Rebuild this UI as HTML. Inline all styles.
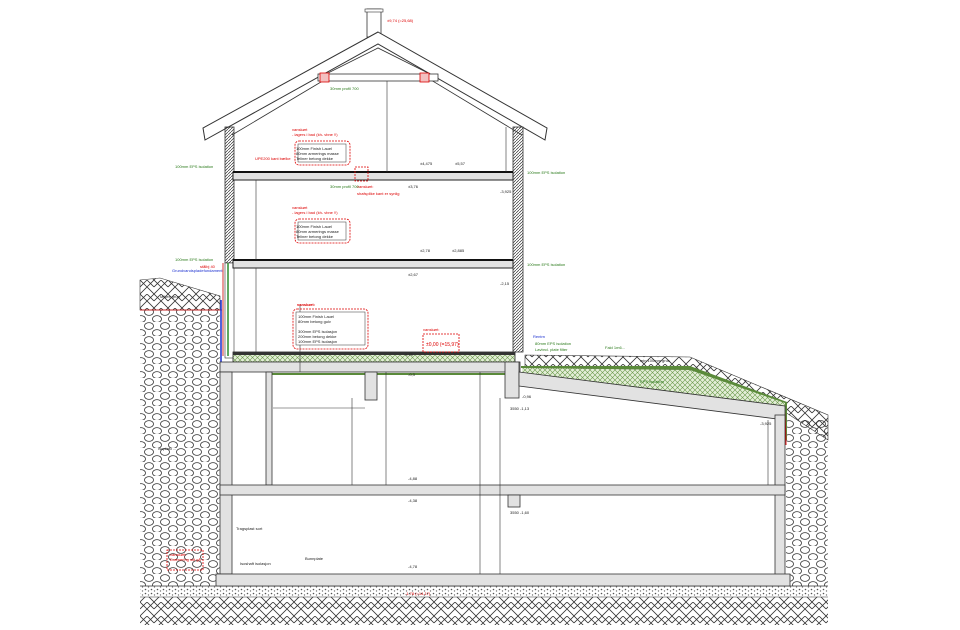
<!DOCTYPE html>
<html><head><meta charset="utf-8"><style>
html,body{margin:0;padding:0;background:#fff;}
svg{display:block;font-family:"Liberation Sans",sans-serif;}
</style></head><body>
<svg width="960" height="630" viewBox="0 0 960 630" xmlns="http://www.w3.org/2000/svg">
<defs>
<pattern id="herr" width="14" height="14" patternUnits="userSpaceOnUse">
<path d="M0 14 L7 7 L14 14 M0 7 L7 0 L14 7 M7 7 L14 0 M0 0 L7 7" stroke="#333" stroke-width="0.8" fill="none"/>
</pattern>
<pattern id="cob" width="16" height="14" patternUnits="userSpaceOnUse">
<ellipse cx="5" cy="4" rx="4.5" ry="3.4" fill="none" stroke="#333" stroke-width="0.8"/>
<ellipse cx="13" cy="11" rx="4.5" ry="3.4" fill="none" stroke="#333" stroke-width="0.8"/>
<ellipse cx="-3" cy="11" rx="4.5" ry="3.4" fill="none" stroke="#333" stroke-width="0.8"/>
</pattern>
<pattern id="hatch" width="3" height="3" patternUnits="userSpaceOnUse">
<path d="M0 3 L3 0" stroke="#333" stroke-width="0.7"/>
</pattern>
<pattern id="grav" width="6" height="4" patternUnits="userSpaceOnUse">
<circle cx="1.5" cy="1.5" r="0.8" fill="#555"/><circle cx="4.5" cy="3" r="0.7" fill="#777"/>
</pattern>
<pattern id="eps" width="5" height="5" patternUnits="userSpaceOnUse">
<rect width="5" height="5" fill="#e4eed8"/>
<path d="M0 0 L5 5 M5 0 L0 5" stroke="#6a9a4a" stroke-width="0.6"/>
</pattern>
</defs>

<!-- ground bottom -->
<rect x="140" y="586" width="688" height="11" fill="url(#grav)"/>
<rect x="140" y="597" width="688" height="28" fill="url(#herr)"/>
<line x1="140" y1="586" x2="828" y2="586" stroke="#333" stroke-width="0.8"/>
<line x1="140" y1="597" x2="828" y2="597" stroke="#333" stroke-width="0.6"/>

<!-- left earth -->
<polygon points="140,280 160,278 220,296 220,310 140,310" fill="url(#herr)" stroke="#333" stroke-width="0.6"/>
<rect x="140" y="310" width="80" height="276" fill="url(#cob)"/>
<line x1="140" y1="310" x2="222" y2="310" stroke="#c00" stroke-width="0.8"/>
<line x1="221" y1="300" x2="221" y2="575" stroke="#1a2fd0" stroke-width="1.5"/>

<!-- right earth -->
<polygon points="525,355 690,357 828,415 828,440 785,412 690,370 525,368" fill="url(#herr)" stroke="#333" stroke-width="0.6"/>
<rect x="786" y="420" width="42" height="166" fill="url(#cob)"/>
<polygon points="521,368 690,370 785,405 785,440 787,440 787,402 690,366 521,366" fill="#5a8a3a"/>
<polygon points="522,368 690,370 785,403 785,414 522,378" fill="url(#eps)"/>
<polyline points="520,378 785,413 786,445" fill="none" stroke="#d00" stroke-width="1"/>

<!-- chimney -->
<rect x="367" y="9" width="14" height="28" fill="#fff" stroke="#333" stroke-width="0.8"/>
<rect x="365" y="9" width="18" height="3" fill="#fff" stroke="#333" stroke-width="0.6"/>

<!-- roof -->
<polygon points="378,32 547,128 545,140 378,44 205,140 203,128" fill="#fff" stroke="#333" stroke-width="1"/>
<polyline points="232,135 378,48 522,135" fill="none" stroke="#333" stroke-width="0.8"/>
<polygon points="378,48 318,78 438,78" fill="#fff" stroke="#333" stroke-width="0.8"/>
<rect x="318" y="74" width="120" height="7" fill="#fff" stroke="#333" stroke-width="0.8"/>
<rect x="320" y="73" width="9" height="9" fill="#f3c0c0" stroke="#d00" stroke-width="0.8"/>
<rect x="420" y="73" width="9" height="9" fill="#f3c0c0" stroke="#d00" stroke-width="0.8"/>

<!-- walls upper -->
<rect x="225" y="127" width="9" height="136" fill="url(#hatch)" stroke="#333" stroke-width="0.8"/>
<rect x="513" y="127" width="10" height="225" fill="url(#hatch)" stroke="#333" stroke-width="0.8"/>
<rect x="225" y="263" width="9" height="95" fill="#fff" stroke="#333" stroke-width="0.6"/>
<line x1="228" y1="263" x2="228" y2="356" stroke="#2a8a2a" stroke-width="1.5"/>
<line x1="223" y1="263" x2="223" y2="356" stroke="#c00" stroke-width="0.8"/>

<!-- floor slabs -->
<rect x="233" y="172" width="280" height="8" fill="#e2e2e2" stroke="#222" stroke-width="1"/>
<line x1="233" y1="172" x2="513" y2="172" stroke="#111" stroke-width="2"/>
<rect x="233" y="260" width="280" height="8" fill="#e2e2e2" stroke="#222" stroke-width="1"/>
<line x1="233" y1="260" x2="513" y2="260" stroke="#111" stroke-width="2"/>
<rect x="233" y="352" width="282" height="10" fill="url(#eps)" stroke="#222" stroke-width="0.8"/>
<rect x="233" y="352" width="282" height="3" fill="#333"/>
<rect x="220" y="362" width="300" height="10" fill="#e2e2e2" stroke="#333" stroke-width="0.8"/>
<line x1="272" y1="374" x2="513" y2="374" stroke="#5a8a3a" stroke-width="2"/>

<!-- basement -->
<rect x="220" y="372" width="12" height="202" fill="#e2e2e2" stroke="#333" stroke-width="0.8"/>
<rect x="266" y="372" width="6" height="113" fill="#e2e2e2" stroke="#333" stroke-width="0.8"/>
<rect x="365" y="372" width="12" height="28" fill="#e2e2e2" stroke="#333" stroke-width="0.8"/>
<rect x="505" y="362" width="14" height="36" fill="#e2e2e2" stroke="#333" stroke-width="0.8"/>
<polygon points="519,372 785,406 785,420 519,386" fill="#e2e2e2" stroke="#333" stroke-width="0.8"/>
<rect x="775" y="415" width="10" height="160" fill="#e2e2e2" stroke="#333" stroke-width="0.8"/>
<rect x="220" y="485" width="565" height="10" fill="#e2e2e2" stroke="#333" stroke-width="0.8"/>
<rect x="508" y="495" width="12" height="12" fill="#e2e2e2" stroke="#333" stroke-width="0.8"/>
<rect x="216" y="574" width="574" height="12" fill="#e2e2e2" stroke="#333" stroke-width="0.8"/>

<!-- dimension lines -->
<g stroke="#333" stroke-width="0.6">
<line x1="387" y1="81" x2="387" y2="172"/>
<line x1="256" y1="180" x2="256" y2="260"/>
<line x1="506" y1="127" x2="506" y2="172"/>
<line x1="256" y1="268" x2="256" y2="352"/>
<line x1="273" y1="408" x2="365" y2="408"/>
<line x1="352" y1="398" x2="352" y2="485"/>
<line x1="386" y1="372" x2="386" y2="485"/>
<line x1="480" y1="372" x2="480" y2="574"/>
<line x1="500" y1="398" x2="500" y2="574"/>
<line x1="768" y1="420" x2="768" y2="485"/>
<line x1="300" y1="305" x2="300" y2="372"/>
</g>

<!-- red annotation boxes -->
<g fill="none" stroke="#d00" stroke-width="0.8" stroke-dasharray="2,1">
<rect x="295" y="141" width="55" height="24" rx="4"/>
<rect x="295" y="219" width="55" height="24" rx="4"/>
<rect x="293" y="309" width="75" height="40" rx="4"/>
<rect x="423" y="334" width="36" height="18"/>
<rect x="355" y="167" width="13" height="14"/>
<rect x="167" y="550" width="36" height="20"/>
</g>
<g fill="#fff" stroke="#333" stroke-width="0.5">
<rect x="298" y="144" width="48" height="18"/>
<rect x="298" y="222" width="48" height="18"/>
<rect x="296" y="312" width="69" height="33"/>
</g>

<!-- labels -->
<g font-size="4" fill="#d00">
<text x="292" y="131">vanskørt</text>
<text x="292" y="136">- lagers i bad (kh- vbne !!)</text>
<text x="292" y="209">vanskørt</text>
<text x="292" y="214">- lagers i bad (kh- vbne !!)</text>
<text x="297" y="306" font-weight="bold">vanskørt:</text>
<text x="423" y="331">vanskørt:</text>
<text x="426" y="346" font-size="5">±0,00 (=15,97)</text>
<text x="357" y="188">vanskørt:</text>
<text x="357" y="195">shafsplike kant er synlig</text>
<text x="387" y="22">±9,74 (=25,68)</text>
<text x="255" y="160">UPE200 kant bælke</text>
<text x="200" y="268">stålbj 40</text>
<text x="170" y="556">vanskørt:</text>
<text x="170" y="561">Drænering sid gå</text>
<text x="405" y="595">-1,78 (=14,17)</text>
</g>
<g font-size="4" fill="#2a7a1a">
<text x="175" y="168">100mm EPS isolation</text>
<text x="175" y="261">100mm EPS isolation</text>
<text x="527" y="174">100mm EPS isolation</text>
<text x="527" y="266">100mm EPS isolation</text>
<text x="330" y="90">30mm profil 700</text>
<text x="330" y="188">30mm profil 700</text>
<text x="535" y="345">80mm EPS isolation</text>
<text x="535" y="351">Lavbrcl. plate filter</text>
<text x="605" y="349">Fald 1m6...</text>
<text x="640" y="383">EPS isolation</text>
</g>
<g font-size="4" fill="#1a2fd0">
<text x="172" y="272">Grundvandspladefundament</text>
<text x="533" y="338">Rentrn</text>
</g>
<g font-size="4" fill="#222">
<text x="296" y="150">100mm Finish Lauel</text>
<text x="296" y="155">80mm armerings masse</text>
<text x="296" y="160">Teliner betong dekke</text>
<text x="296" y="228">100mm Finish Lauel</text>
<text x="296" y="233">80mm armerings masse</text>
<text x="296" y="238">Teliner betong dekke</text>
<text x="298" y="318">100mm Finish Lauel</text>
<text x="298" y="323">80mm betong gulv</text>
<text x="298" y="333">300mm EPS isolasjon</text>
<text x="298" y="338">200mm betong dekke</text>
<text x="298" y="343">100mm EPS isolasjon</text>
<text x="420" y="165">±4,475</text><text x="455" y="165">±5,57</text>
<text x="408" y="188">±3,76</text><text x="500" y="193">-3,925</text>
<text x="420" y="252">±2,78</text><text x="452" y="252">±2,885</text>
<text x="408" y="276">±2,67</text><text x="500" y="285">-2,15</text>
<text x="405" y="356">±,75</text><text x="408" y="376">-0,3</text>
<text x="408" y="480">-4,88</text><text x="408" y="502">-4,38</text>
<text x="408" y="568">-4,78</text><text x="522" y="398">-0,96</text>
<text x="510" y="410">3550 -1,13</text><text x="510" y="514">3550 -1,60</text>
<text x="760" y="425">-3,925</text>
<text x="160" y="298">Mikee grus</text>
<text x="158" y="450">Isoplast ...</text>
<text x="236" y="530">Tragsplast sort</text>
<text x="240" y="565">Isoshaft isolasjon</text>
<text x="305" y="560">Bunnplate</text>
<text x="640" y="362">min 100mm grus</text>
</g>
</svg>
</body></html>
